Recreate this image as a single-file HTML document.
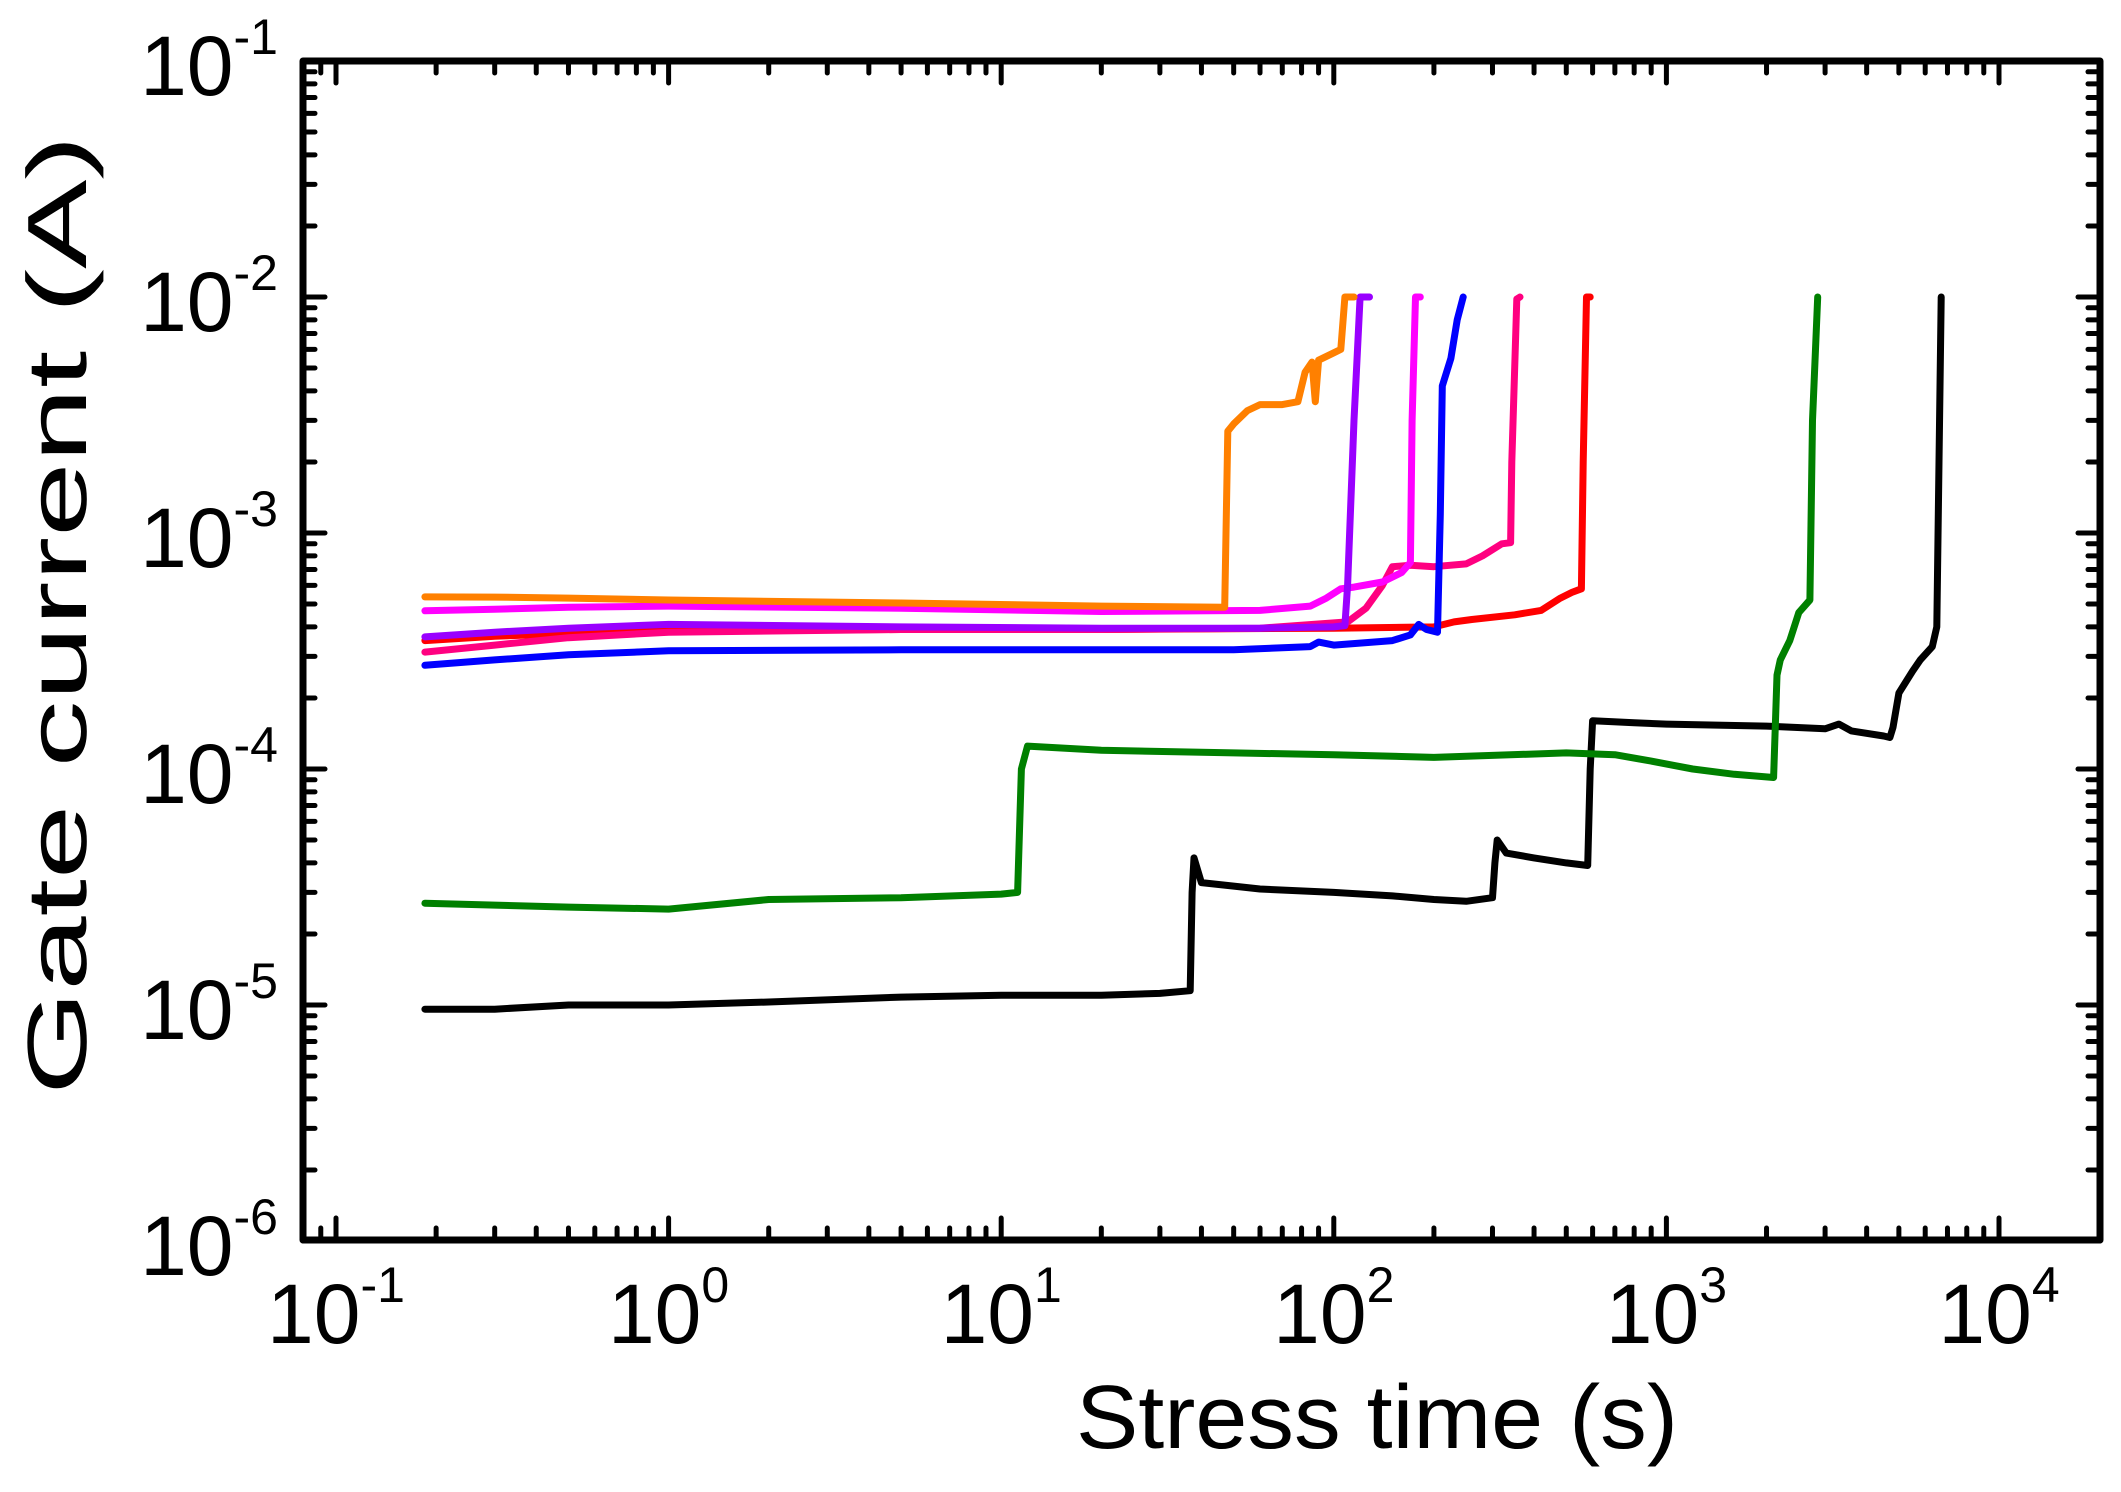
<!DOCTYPE html>
<html><head><meta charset="utf-8"><style>
html,body{margin:0;padding:0;background:#fff;}
svg{display:block;}
text{font-family:"Liberation Sans",Arial,sans-serif;fill:#000;}
</style></head><body>
<svg id="chart" width="2121" height="1492" viewBox="0 0 2121 1492" xmlns="http://www.w3.org/2000/svg">
<g id="series"></g>
<g id="axes"></g>
</svg>
<script>
// ---- data (t in s, I in A) ----
const seriesNames = ["black","green","red","crimson","blue","magenta","purple","orange"];
const seriesColors = ["#000000","#008000","#FF0000","#FF0080","#0000FF","#FF00FF","#9900FF","#FF8000"];
const blackT = [0.185,0.3,0.5,1,2,5,10,20,30,37,37.5,38,40,60,100,150,200,250,300,305,310,330,400,500,580,590,600,800,1000,2000,3000,3300,3600,4500,4700,4800,5000,5500,5800,6300,6500,6600,6700];
const blackI = [9.6e-6,9.6e-6,1.0e-5,1.0e-5,1.03e-5,1.08e-5,1.1e-5,1.1e-5,1.12e-5,1.15e-5,3.0e-5,4.2e-5,3.3e-5,3.1e-5,3.0e-5,2.9e-5,2.8e-5,2.75e-5,2.85e-5,4.0e-5,5.0e-5,4.4e-5,4.2e-5,4.0e-5,3.9e-5,1.0e-4,1.6e-4,1.57e-4,1.55e-4,1.52e-4,1.48e-4,1.55e-4,1.45e-4,1.38e-4,1.36e-4,1.5e-4,2.1e-4,2.6e-4,2.9e-4,3.3e-4,4.0e-4,2.0e-3,1.0e-2];
const greenT = [0.185,0.3,0.5,1,2,5,10,11.2,11.5,12,20,50,100,200,500,700,900,1200,1600,2100,2150,2200,2350,2500,2700,2750,2850];
const greenI = [2.7e-5,2.65e-5,2.6e-5,2.55e-5,2.8e-5,2.85e-5,2.95e-5,3.0e-5,1.0e-4,1.25e-4,1.2e-4,1.17e-4,1.15e-4,1.12e-4,1.17e-4,1.15e-4,1.08e-4,1.0e-4,9.5e-5,9.2e-5,2.5e-4,2.9e-4,3.5e-4,4.6e-4,5.2e-4,3.0e-3,1.0e-2];
const redT = [0.185,0.3,0.5,1,5,20,100,200,230,260,350,420,480,520,555,562,575,590];
const redI = [3.5e-4,3.65e-4,3.75e-4,3.85e-4,3.9e-4,3.9e-4,3.95e-4,4.0e-4,4.2e-4,4.3e-4,4.5e-4,4.7e-4,5.3e-4,5.6e-4,5.8e-4,2.0e-3,1.0e-2,1.0e-2];
const crimsonT = [0.185,0.3,0.5,1,5,20,60,110,125,140,150,170,200,250,280,320,340,343,355,363];
const crimsonI = [3.13e-4,3.35e-4,3.6e-4,3.8e-4,3.9e-4,3.9e-4,3.95e-4,4.2e-4,4.8e-4,6.0e-4,7.2e-4,7.3e-4,7.2e-4,7.4e-4,8.0e-4,9.0e-4,9.1e-4,2.0e-3,9.8e-3,1.0e-2];
const blueT = [0.185,0.3,0.5,1,5,20,50,85,90,100,150,170,180,190,205,209,212,225,235,245];
const blueI = [2.75e-4,2.9e-4,3.05e-4,3.17e-4,3.2e-4,3.2e-4,3.2e-4,3.3e-4,3.45e-4,3.35e-4,3.5e-4,3.7e-4,4.1e-4,3.9e-4,3.8e-4,1.2e-3,4.2e-3,5.5e-3,8.0e-3,1.0e-2];
const magentaT = [0.185,0.3,0.5,1,5,20,60,85,95,105,115,140,160,170,172,176,182];
const magentaI = [4.68e-4,4.75e-4,4.85e-4,4.9e-4,4.8e-4,4.65e-4,4.7e-4,4.9e-4,5.3e-4,5.8e-4,5.9e-4,6.2e-4,6.8e-4,7.5e-4,3.0e-3,1.0e-2,1.0e-2];
const purpleT = [0.185,0.3,0.5,1,5,20,60,100,108,110,115,120,128];
const purpleI = [3.63e-4,3.8e-4,3.95e-4,4.1e-4,4.0e-4,3.95e-4,3.95e-4,4.0e-4,4.05e-4,6.0e-4,3.0e-3,1.0e-2,1.0e-2];
const orangeT = [0.185,0.3,0.5,1,5,20,47,48,50,55,60,70,78,82,86,88,90,100,105,108,115];
const orangeI = [5.36e-4,5.35e-4,5.3e-4,5.2e-4,5.05e-4,4.9e-4,4.85e-4,2.7e-3,2.9e-3,3.3e-3,3.5e-3,3.5e-3,3.6e-3,4.8e-3,5.3e-3,3.6e-3,5.4e-3,5.8e-3,6.0e-3,1.0e-2,1.0e-2];
const xTickExps = [-1,0,1,2,3,4];
const xTickLabels = ["-1","0","1","2","3","4"];
const yTickExps = [-1,-2,-3,-4,-5,-6];
const yTickLabels = ["-1","-2","-3","-4","-5","-6"];

// ---- axes functions ----
const L=303,R=2100,T=61,B=1240;
function X(t){return 336+(Math.log10(t)+1)*332.6;}
function Y(i){return 61+(-1-Math.log10(i))*236;}
const NS="http://www.w3.org/2000/svg";
const sg=document.getElementById('series'), ag=document.getElementById('axes');
function mk(tag,attrs,parent){const e=document.createElementNS(NS,tag);for(const k in attrs)e.setAttribute(k,attrs[k]);parent.appendChild(e);return e;}

const allT=[blackT,greenT,redT,crimsonT,blueT,magentaT,purpleT,orangeT];
const allI=[blackI,greenI,redI,crimsonI,blueI,magentaI,purpleI,orangeI];
for(let s=0;s<allT.length;s++){
  let d="";
  for(let k=0;k<allT[s].length;k++){d+=(k?"L":"M")+X(allT[s][k]).toFixed(1)+","+Y(allI[s][k]).toFixed(1);}
  const p=mk('path',{d:d,fill:'none',stroke:seriesColors[s],'stroke-width':7,'stroke-linejoin':'round','stroke-linecap':'round'},sg);
  
  
}

// frame
const fr=mk('rect',{x:L,y:T,width:R-L,height:B-T,fill:'none',stroke:'#000','stroke-width':7,'stroke-linejoin':'round'},ag);



// x ticks
for(let e=-2;e<=4;e++){for(let m=1;m<=9;m++){
  const v=m*Math.pow(10,e);const x=X(v);if(x<L+3||x>R-3)continue;
  const len=m===1?22:12;
  const t1=mk('line',{x1:x,y1:B,x2:x,y2:B-len,stroke:'#000','stroke-width':5,'stroke-linecap':'round'},ag);
  
  
  const t2=mk('line',{x1:x,y1:T,x2:x,y2:T+len,stroke:'#000','stroke-width':5,'stroke-linecap':'round'},ag);
  
  
}}
// y ticks
for(let e=-7;e<=-1;e++){for(let m=1;m<=9;m++){
  const v=m*Math.pow(10,e);const y=Y(v);if(y<T-1||y>B+1)continue;
  const len=m===1?22:12;
  const t1=mk('line',{x1:L,y1:y,x2:L+len,y2:y,stroke:'#000','stroke-width':5,'stroke-linecap':'round'},ag);
  
  
  const t2=mk('line',{x1:R,y1:y,x2:R-len,y2:y,stroke:'#000','stroke-width':5,'stroke-linecap':'round'},ag);
  
  
}}
// x tick labels
for(let k=0;k<xTickExps.length;k++){
  const x=X(Math.pow(10,xTickExps[k]));
  const tx=mk('text',{x:x,y:1343,'font-size':84,'text-anchor':'middle'},ag);
  
  
  tx.appendChild(document.createTextNode("10"));
  const sp=mk('tspan',{dy:-41,'font-size':50},tx);sp.textContent=xTickLabels[k];
}
// y tick labels
for(let k=0;k<yTickExps.length;k++){
  const y=Y(Math.pow(10,yTickExps[k]));
  const tx=mk('text',{x:278,y:y+34,'font-size':84,'text-anchor':'end'},ag);
  
  
  tx.appendChild(document.createTextNode("10"));
  const sp=mk('tspan',{dy:-41,'font-size':50},tx);sp.textContent=yTickLabels[k];
}
</script>
<svg style="position:absolute;left:0;top:0" width="2121" height="1492">
<text x="1377" y="1448" font-size="90" text-anchor="middle" textLength="602" lengthAdjust="spacingAndGlyphs" style="font-family:'Liberation Sans',Arial,sans-serif">Stress time (s)</text>
<text transform="translate(86,615) rotate(-90)" x="0" y="0" font-size="84" text-anchor="middle" textLength="960" lengthAdjust="spacingAndGlyphs" style="font-family:'Liberation Sans',Arial,sans-serif">Gate current (A)</text>
</svg>
</body></html>
